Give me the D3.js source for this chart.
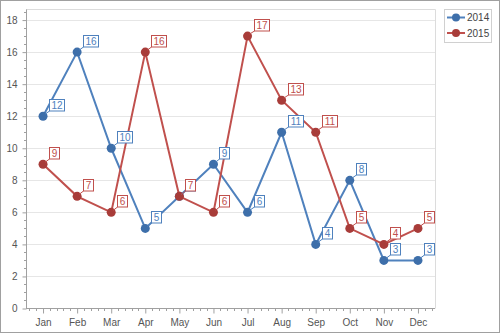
<!DOCTYPE html>
<html><head><meta charset="utf-8">
<script src="https://cdn.jsdelivr.net/npm/d3@7"></script>
<style>html,body{margin:0;padding:0;background:#fff;}svg{display:block;font-family:"Liberation Sans",Arial,sans-serif;}</style>
</head><body>
<svg id="c" width="500" height="333"></svg>
<script>
const months = ["Jan","Feb","Mar","Apr","May","Jun","Jul","Aug","Sep","Oct","Nov","Dec"];
const values2014 = [12,16,10,5,7,9,6,11,4,8,3,3];
const values2015 = [9,7,6,16,7,6,17,13,11,5,4,5];
const seriesNames = ["2014","2015"];
const yTicks = [0,2,4,6,8,10,12,14,16,18];

const series = [
  {name: seriesNames[0], values: values2014, line: "#4F81BD", fill: "#3E6FAA"},
  {name: seriesNames[1], values: values2015, line: "#C0504D", fill: "#A83C39"}
];

const svg = d3.select("#c");
const L = 26, R = 435, T = 9.5, B = 308.5;

svg.append("rect").attr("x",0.5).attr("y",0.5).attr("width",499).attr("height",332)
  .attr("fill","#fff").attr("stroke","#a0a0a0");

const x = d3.scalePoint().domain(months).range([L, R]).padding(0.5);
const y = d3.scaleLinear().domain([0, 18.66]).range([B, T]);
const step = x.step();

// gridlines
svg.append("g").selectAll("line").data(yTicks.filter(d=>d>0)).join("line")
  .attr("x1",L).attr("x2",R).attr("y1",d=>Math.round(y(d))+0.5).attr("y2",d=>Math.round(y(d))+0.5)
  .attr("stroke","#e6e6e6");
// plot border top/right
svg.append("path").attr("d",`M${L},${T}H${R+0.5}V${B}`).attr("fill","none").attr("stroke","#dcdcdc");

// y axis
const yAxis = d3.axisLeft(y).tickValues(yTicks).tickSize(4).tickPadding(5);
const gy = svg.append("g").attr("transform",`translate(${L+0.5},0)`).call(yAxis);
gy.select(".domain").attr("stroke","#a0a0a0").attr("d",`M0,${T}V${B}`);
gy.selectAll(".tick line").attr("stroke","#a0a0a0");
gy.selectAll(".tick text").attr("fill","#555").style("font-size","10px").style("font-family","Liberation Sans, Arial, sans-serif");
// minor y ticks
const minorY = d3.range(0, 18.6, 0.5).filter(v => v % 2 !== 0);
svg.append("g").selectAll("line").data(minorY).join("line")
  .attr("x1",L-2).attr("x2",L).attr("y1",d=>Math.round(y(d))+0.5).attr("y2",d=>Math.round(y(d))+0.5)
  .attr("stroke","#a0a0a0");

// x axis
const xAxis = d3.axisBottom(x).tickSize(5).tickPadding(5);
const gx = svg.append("g").attr("transform",`translate(0,${B})`).call(xAxis);
gx.select(".domain").attr("stroke","#a0a0a0").attr("d",`M${L},0H${R}`);
gx.selectAll(".tick line").attr("stroke","#a0a0a0");
gx.selectAll(".tick text").attr("fill","#555").style("font-size","10px").style("font-family","Liberation Sans, Arial, sans-serif");
// minor x ticks
const minorX = [];
months.forEach(m => { for (let k=-2;k<=2;k++){ if(k!==0){ const xv = x(m)+k*step/5; if(xv>L+1 && xv<R-1) minorX.push(xv);} } });
svg.append("g").selectAll("line").data(minorX).join("line")
  .attr("x1",d=>Math.round(d)+0.5).attr("x2",d=>Math.round(d)+0.5).attr("y1",B).attr("y2",B+2.5)
  .attr("stroke","#a0a0a0");

// series
const line = d3.line().x((d,i)=>x(months[i])).y(d=>y(d));
const seriesLayer = svg.append("g");
const labelLayer = svg.append("g");
series.forEach(s => {
  const g = seriesLayer.append("g");
  g.append("path").datum(s.values).attr("d",line).attr("fill","none")
    .attr("stroke",s.line).attr("stroke-width",2);
  g.selectAll("circle").data(s.values).join("circle")
    .attr("cx",(d,i)=>x(months[i])).attr("cy",d=>y(d)).attr("r",4.5)
    .attr("fill",s.fill);
});
series.forEach(s => {
  const g = labelLayer.append("g");
  s.values.forEach((v,i) => {
    const px = x(months[i]), py = y(v);
    const txt = String(v);
    const w = txt.length > 1 ? 15 : 10, h = 11.5;
    const bx = Math.round(px + 6) + 0.5, by = Math.round(py - 6 - h) + 0.5;
    g.append("line").attr("x1",px+2).attr("y1",py-2).attr("x2",bx).attr("y2",by+h)
      .attr("stroke",s.line).attr("stroke-width",1);
    g.append("rect").attr("x",bx).attr("y",by).attr("width",w).attr("height",h)
      .attr("fill","#fff").attr("stroke",s.line);
    g.append("text").attr("x",bx+w/2).attr("y",by+h/2+3.5).attr("text-anchor","middle")
      .attr("fill",s.line).style("font-size","10px").text(txt);
  });
});

// legend
const lg = svg.append("g");
lg.append("rect").attr("x",444.5).attr("y",9.5).attr("width",47).attr("height",33)
  .attr("fill","#fff").attr("stroke","#d0d0d0");
series.forEach((s,i) => {
  const cy = 17.5 + i*15.5;
  lg.append("line").attr("x1",447).attr("x2",465).attr("y1",cy).attr("y2",cy)
    .attr("stroke",s.line).attr("stroke-width",2);
  lg.append("circle").attr("cx",456).attr("cy",cy).attr("r",4).attr("fill",s.fill);
  lg.append("text").attr("x",467).attr("y",cy+3.5).attr("fill","#444")
    .style("font-size","10px").text(s.name);
});
</script>
</body></html>
